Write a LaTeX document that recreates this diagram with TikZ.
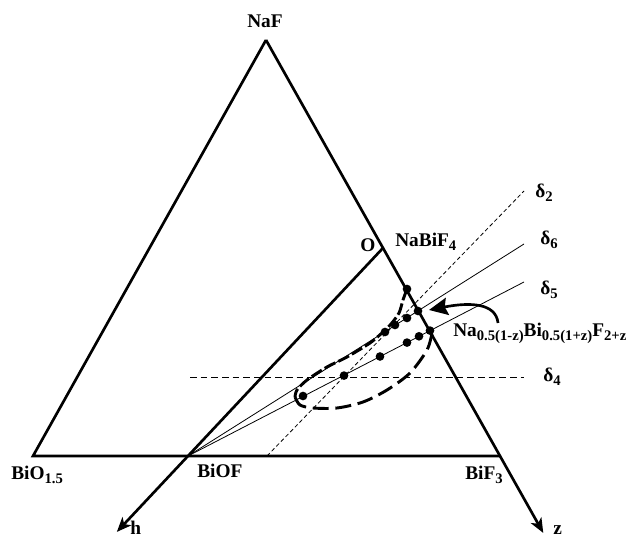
\documentclass[tikz,border=0pt]{standalone}
\usepackage{fontspec}
\setmainfont{Liberation Serif}
\usetikzlibrary{arrows.meta, calc}
\newcommand{\sbs}[1]{\raisebox{-0.4ex}{\fontsize{11}{12}\selectfont #1}}

\begin{document}
\begin{tikzpicture}[x=0.75pt, y=-0.75pt, font=\fontsize{14.5}{16}\selectfont\bfseries,
  side/.style={line width=2pt},
  axis/.style={line width=2pt, -{Stealth[length=11pt, width=9pt, inset=3pt]}},
  ray/.style={line width=0.6pt},
  dray/.style={line width=0.6pt, dash pattern=on 3pt off 2pt},
  hray/.style={line width=0.7pt, dash pattern=on 5pt off 3pt},
  dot/.style={circle, fill, inner sep=0pt, minimum size=6.5pt},
  bound/.style={line width=2.2pt},
  lbl/.style={inner sep=0pt}
]
\useasboundingbox (0,0) rectangle (626,538);

% corners of the triangle
\coordinate (naf)  at (266,40);
\coordinate (bio)  at (33,456);
\coordinate (bif)  at (500,456);
\coordinate (o)    at (383,248);
\coordinate (biof) at (188,456);
\coordinate (ztip) at ($(naf)!1.185!(bif)$);
\coordinate (htip) at ($(o)!1.365!(biof)$);

\draw[side] (bif) -- (bio) -- (naf);
\draw[axis] (naf) -- (ztip);
\draw[axis] (o) -- (htip);

% sections
\coordinate (e2) at (524,191);
\coordinate (e6) at (524,244);
\coordinate (e5) at (524,282);
\coordinate (e4) at (524,377);
\coordinate (s2) at (267,456);
\coordinate (s4) at (190,377);
\draw[ray]  (biof) -- (e6);
\draw[ray]  (biof) -- (e5);
\draw[dray] (s2) -- (e2);
\draw[hray] (s4) -- (e4);

% samples
\foreach \x/\y [count=\i] in {385/332, 395/325, 407/318, 418/311, 303/396, 344/375.6,
    380/356.5, 407/342.6, 419/336.3, 430/330.6, 407/289}
  \node[dot] (p\i) at (\x,\y) {};

% domain
\draw[bound, dash pattern=on 9pt off 2.5pt] plot[smooth] coordinates {(407,289) (403,300)
  (399,313) (391,324) (383,332) (370,343) (347,357) (327,367) (307,380) (297,390) (295,397)};
\draw[bound, dash pattern=on 12pt off 5pt] plot[smooth] coordinates {(295,397) (300,405)
  (313,408) (337,408) (363,402) (387,390) (410,373) (427,350) (432,333)};

% labels
\node[lbl] (lnaf) at (265,21) {NaF};
\node[lbl, anchor=base west] (lbio) at (11,480) {BiO\sbs{1.5}};
\node[lbl, anchor=base west] (lbiof) at (197,478) {BiOF};
\node[lbl, anchor=base east] (lbif) at (503,480) {BiF\sbs{3}};
\node[lbl, anchor=base] (lo) at (368,252) {O};
\node[lbl, anchor=base west] (lnabi) at (395,247) {NaBiF\sbs{4}};
\node[lbl, anchor=base west] (ld2) at (535,198) {δ\sbs{2}};
\node[lbl, anchor=base west] (ld6) at (540,245) {δ\sbs{6}};
\node[lbl, anchor=base west] (ld5) at (540,295) {δ\sbs{5}};
\node[lbl, anchor=base west] (ld4) at (543,382) {δ\sbs{4}};
\node[lbl, anchor=base west] (lsol) at (453,337)
  {Na\sbs{0.5(1-z)}Bi\sbs{0.5(1+z)}F\sbs{2+z}};
\node[lbl, anchor=base west] (lh) at (130,535) {h};
\node[lbl, anchor=base west] (lz) at (553,535) {z};

\coordinate (atail) at (498,323);
\coordinate (ahead) at (429,310);
\draw[line width=2pt, -{Stealth[length=14pt, width=13pt, inset=2pt]}]
  (atail) .. controls (496,303) and (470,302) .. (ahead);
\end{tikzpicture}
\end{document}
